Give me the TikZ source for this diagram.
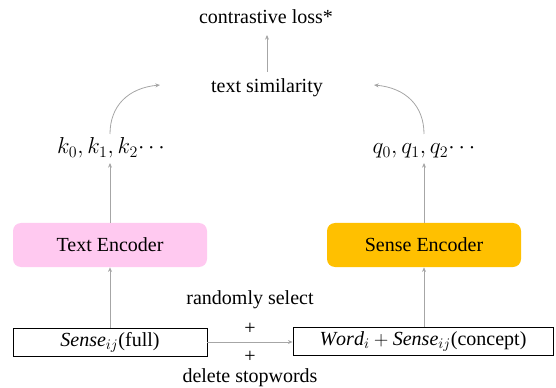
\documentclass[tikz,border=0pt]{standalone}
\usepackage{fontspec}
\setmainfont{Liberation Serif}
\usetikzlibrary{arrows.meta}
\definecolor{encpink}{RGB}{255,201,240}
\definecolor{encorange}{RGB}{255,192,0}
\definecolor{flowgray}{RGB}{166,166,166}
\tikzset{
  lbl/.style={inner sep=0pt, font=\fontsize{15}{18}\selectfont},
  mathlbl/.style={inner sep=0pt, font=\fontsize{16.5}{19}\selectfont},
  encbox/.style={rounded corners=6pt, minimum width=145.5pt, minimum height=33pt,
    inner sep=0pt, font=\fontsize{15}{18}\selectfont},
  inbox/.style={draw=black, line width=0.6pt, minimum height=21pt,
    inner sep=0pt, font=\fontsize{15}{18}\selectfont},
  flow/.style={draw=flowgray, line width=0.6pt, -{Stealth[length=3.5pt,width=3pt]}}
}
\begin{document}
\begin{tikzpicture}[x=0.75pt, y=-0.75pt]
\useasboundingbox (0,0) rectangle (556,388);

% top of the chain
\node[lbl] (loss) at (266,17) {contrastive loss*};
\node[lbl] (sim) at (267,88) {text similarity};

% encoder outputs
\node[mathlbl, anchor=base] (keys) at (111,154) {$k_0, k_1, k_2{\cdots}$};
\node[mathlbl, anchor=base] (queries) at (424,154) {$q_0, q_1, q_2{\cdots}$};

% encoders
\node[encbox, fill=encpink] (tenc) at (110,245) {Text Encoder};
\node[encbox, fill=encorange] (senc) at (424,245) {Sense Encoder};

% inputs
\node[inbox, minimum width=145.5pt] (full) at (110,342) {$\mathit{Sense}_{ij}$(full)};
\node[inbox, minimum width=195pt] (word) at (423,341.5) {$\mathit{Word}_i + \mathit{Sense}_{ij}$(concept)};

% augmentation labels
\node[lbl] (rsel) at (250,300) {randomly select};
\node[lbl] (plusa) at (250,329) {+};
\node[lbl] (plusb) at (250,357) {+};
\node[lbl] (dels) at (250,378) {delete stopwords};

% curve endpoints beside the similarity label
\coordinate (kstart) at (110,134);
\coordinate (kend) at (160,85);
\coordinate (qstart) at (424,134);
\coordinate (qend) at (374,85);
\coordinate (simtop) at (267,72);
\coordinate (losslow) at (267,35);
\coordinate (keyslow) at (110,163);
\coordinate (querylow) at (424,163);

% connectors
\draw[flow] (simtop) -- (losslow);
\draw[flow] (kstart) .. controls (110,106) and (128,88) .. (kend);
\draw[flow] (qstart) .. controls (424,106) and (406,88) .. (qend);
\draw[flow] (tenc.north -| kstart) -- (keyslow);
\draw[flow] (senc.north -| qstart) -- (querylow);
\draw[flow] (full.north -| kstart) -- (tenc.south -| kstart);
\draw[flow] (word.north -| qstart) -- (senc.south -| qstart);
\draw[flow] (full.east) -- (full.east -| word.west);
\end{tikzpicture}
\end{document}
